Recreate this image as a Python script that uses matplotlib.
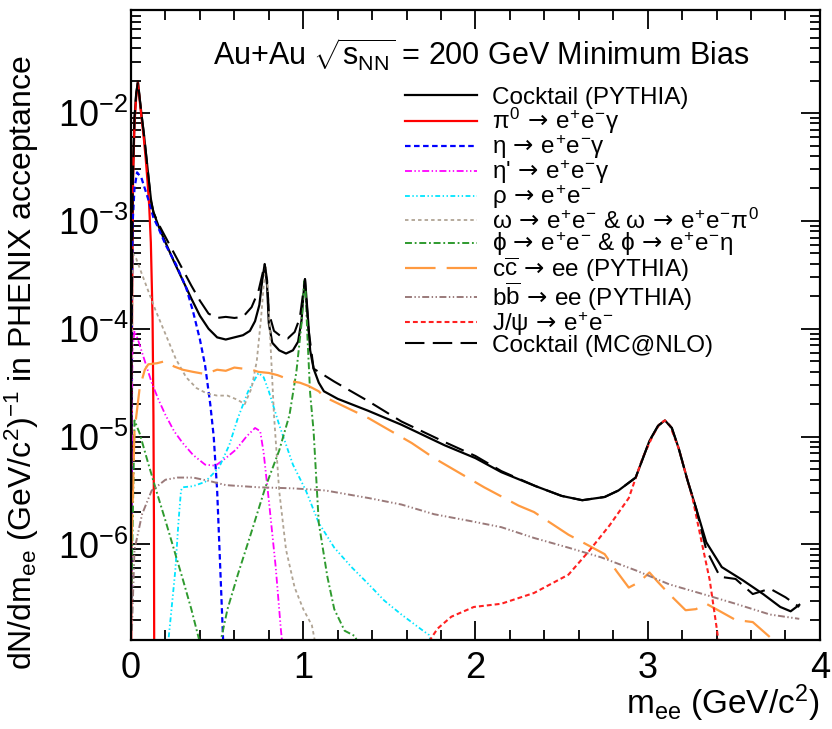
import numpy as np
import matplotlib
matplotlib.use("Agg")
import matplotlib.pyplot as plt
from matplotlib.ticker import MultipleLocator, LogLocator, NullFormatter

plt.rcParams['font.family'] = ['Liberation Sans', 'DejaVu Sans']
plt.rcParams['mathtext.fontset'] = 'custom'
plt.rcParams['mathtext.rm'] = 'Liberation Sans'
plt.rcParams['mathtext.it'] = 'Liberation Sans'
plt.rcParams['mathtext.sf'] = 'DejaVu Sans'
plt.rcParams['mathtext.bf'] = 'Liberation Sans:bold'
plt.rcParams['lines.scale_dashes'] = False
plt.rcParams['axes.unicode_minus'] = False

# ---------------- data (log10 of dN/dm_ee) ----------------
m_cocktail = [0.001, 0.004, 0.008, 0.012, 0.02, 0.03, 0.04, 0.05, 0.062, 0.075, 0.085, 0.095, 0.105, 0.117, 0.13,
              0.16, 0.2, 0.25, 0.3, 0.35, 0.4, 0.45, 0.5, 0.55, 0.6, 0.65, 0.69, 0.72, 0.745, 0.762, 0.776, 0.79,
              0.80, 0.82, 0.86, 0.90, 0.94, 0.97, 0.99, 1.0, 1.01, 1.025, 1.04, 1.06, 1.09, 1.12, 1.2, 1.376, 1.57,
              1.82, 2.0, 2.15, 2.35, 2.5, 2.62, 2.75, 2.83, 2.93, 3.01, 3.06, 3.10, 3.14, 3.18, 3.23, 3.28, 3.34,
              3.43, 3.55, 3.67, 3.77, 3.83, 3.88]
log_cocktail = [-5.5, -3.9, -2.95, -2.5, -2.05, -1.82, -1.71, -1.86, -2.03, -2.2, -2.35, -2.5, -2.65, -2.82, -2.92,
                -3.05, -3.2, -3.38, -3.55, -3.72, -3.88, -4.0, -4.08, -4.1, -4.08, -4.06, -4.02, -3.93, -3.78, -3.55,
                -3.40, -3.6, -3.95, -4.13, -4.2, -4.23, -4.2, -4.12, -3.92, -3.7, -3.54, -3.85, -4.2, -4.37, -4.5,
                -4.58, -4.65, -4.76, -4.89, -5.08, -5.2, -5.33, -5.46, -5.55, -5.59, -5.56, -5.50, -5.38, -5.04, -4.9,
                -4.85, -4.92, -5.11, -5.4, -5.66, -5.98, -6.21, -6.33, -6.46, -6.58, -6.62, -6.56]

m_mcnlo = [0.001, 0.004, 0.008, 0.012, 0.02, 0.03, 0.04, 0.05, 0.062, 0.075, 0.085, 0.095, 0.105, 0.117, 0.13,
           0.16, 0.2, 0.25, 0.3, 0.35, 0.4, 0.45, 0.5, 0.55, 0.6, 0.65, 0.7, 0.74, 0.762, 0.776, 0.79, 0.80, 0.83,
           0.87, 0.91, 0.95, 0.98, 1.0, 1.01, 1.03, 1.06, 1.18, 1.376, 1.57, 1.82, 2.0, 2.15, 2.35, 2.5, 2.62,
           2.75, 2.83, 2.93, 3.01, 3.06, 3.10, 3.14, 3.18, 3.23, 3.28, 3.34, 3.42, 3.51, 3.61, 3.71, 3.80, 3.88]
log_mcnlo = [-5.5, -3.9, -2.95, -2.5, -2.05, -1.82, -1.71, -1.86, -2.03, -2.2, -2.35, -2.5, -2.65, -2.82, -2.92,
             -3.03, -3.15, -3.3, -3.45, -3.6, -3.74, -3.86, -3.9, -3.89, -3.9, -3.89, -3.8, -3.65, -3.5, -3.40,
             -3.55, -3.85, -4.02, -4.07, -4.09, -4.03, -3.9, -3.66, -3.54, -4.0, -4.37, -4.49, -4.67, -4.86, -5.05,
             -5.18, -5.32, -5.46, -5.55, -5.59, -5.56, -5.50, -5.38, -5.04, -4.9, -4.85, -4.92, -5.11, -5.4, -5.66,
             -6.05, -6.30, -6.32, -6.46, -6.41, -6.49, -6.58]

m_pi0 = [0.001, 0.004, 0.008, 0.012, 0.02, 0.03, 0.04, 0.05, 0.062, 0.075, 0.085, 0.095, 0.105, 0.115, 0.125,
         0.13, 0.133, 0.1345]
log_pi0 = [-7.0, -4.6, -3.2, -2.6, -2.1, -1.85, -1.72, -1.88, -2.06, -2.25, -2.42, -2.62, -2.85, -3.2, -3.9,
           -4.8, -5.8, -7.0]

m_eta = [0.001, 0.005, 0.01, 0.02, 0.035, 0.06, 0.1, 0.13, 0.16, 0.2, 0.26, 0.32, 0.36, 0.40, 0.43, 0.46, 0.48,
         0.50, 0.52, 0.535, 0.545]
log_eta = [-6.5, -3.6, -3.0, -2.7, -2.55, -2.6, -2.8, -2.97, -3.07, -3.22, -3.4, -3.62, -3.84, -4.1, -4.34, -4.7,
           -5.0, -5.5, -6.3, -6.9, -7.2]

m_etap = [0.002, 0.008, 0.02, 0.04, 0.08, 0.12, 0.16, 0.2, 0.25, 0.3, 0.36, 0.43, 0.49, 0.55, 0.61, 0.67, 0.72,
          0.75, 0.77, 0.8, 0.84, 0.87, 0.89]
log_etap = [-6.0, -4.2, -4.02, -4.1, -4.3, -4.5, -4.66, -4.8, -4.95, -5.06, -5.17, -5.26, -5.27, -5.2, -5.12,
            -5.0, -4.92, -4.95, -5.15, -5.59, -6.21, -6.79, -7.1]

m_rho = [0.21, 0.235, 0.257, 0.275, 0.29, 0.30, 0.36, 0.43, 0.51, 0.57, 0.62, 0.68, 0.74, 0.77, 0.80, 0.86, 0.94,
         1.015, 1.09, 1.18, 1.28, 1.38, 1.47, 1.57, 1.67, 1.73, 1.76]
log_rho = [-7.0, -6.6, -6.24, -5.8, -5.5, -5.47, -5.46, -5.42, -5.29, -5.08, -4.83, -4.58, -4.41, -4.45, -4.58,
           -4.89, -5.26, -5.50, -5.8, -6.03, -6.21, -6.37, -6.52, -6.65, -6.77, -6.84, -7.0]

m_omega = [0.002, 0.01, 0.03, 0.06, 0.1, 0.14, 0.2, 0.26, 0.32, 0.38, 0.44, 0.5, 0.56, 0.62, 0.66, 0.7, 0.73,
           0.755, 0.77, 0.782, 0.795, 0.81, 0.83, 0.86, 0.9, 0.95, 1.0, 1.05, 1.08]
log_omega = [-5.0, -3.3, -3.35, -3.48, -3.65, -3.82, -4.05, -4.28, -4.45, -4.55, -4.6, -4.62, -4.62, -4.66, -4.7,
             -4.55, -4.3, -3.9, -3.6, -3.43, -3.65, -4.15, -4.8, -5.5, -6.05, -6.4, -6.6, -6.75, -7.0]

m_phi = [0.002, 0.02, 0.05, 0.1, 0.15, 0.2, 0.25, 0.3, 0.35, 0.39, 0.43, 0.47, 0.52, 0.56, 0.62, 0.7, 0.78, 0.86,
         0.92, 0.96, 0.99, 1.005, 1.012, 1.025, 1.04, 1.06, 1.09, 1.14, 1.18, 1.24, 1.30, 1.34]
log_phi = [-6.5, -4.85, -4.97, -5.25, -5.52, -5.78, -6.05, -6.32, -6.6, -6.85, -7.1, -7.2, -6.9, -6.6, -6.28,
           -5.88, -5.47, -5.13, -4.8, -4.4, -3.95, -3.56, -3.6, -4.1, -4.6, -4.95, -5.8, -6.3, -6.6, -6.8, -6.85,
           -7.0]

m_ccbar = [0.003, 0.02, 0.05, 0.08, 0.1, 0.15, 0.2, 0.25, 0.3, 0.36, 0.43, 0.5, 0.55, 0.6, 0.65, 0.7, 0.74, 0.8,
           0.85, 0.9, 0.94, 0.98, 1.03, 1.09, 1.12, 1.38, 1.63, 1.76, 2.05, 2.25, 2.34, 2.54, 2.68, 2.75, 2.82,
           2.89, 2.95, 3.01, 3.06, 3.125, 3.22, 3.28, 3.34, 3.42, 3.51, 3.61, 3.71, 3.76]
log_ccbar = [-6.0, -4.95, -4.55, -4.38, -4.33, -4.32, -4.3, -4.35, -4.38, -4.4, -4.42, -4.38, -4.39, -4.36, -4.37,
             -4.38, -4.4, -4.41, -4.43, -4.46, -4.49, -4.5, -4.53, -4.58, -4.63, -4.83, -5.06, -5.2, -5.47, -5.64,
             -5.7, -5.91, -6.03, -6.09, -6.25, -6.40, -6.35, -6.26, -6.35, -6.46, -6.61, -6.6, -6.55, -6.62,
             -6.70, -6.72, -6.86, -7.0]

m_bbbar = [0.005, 0.02, 0.064, 0.12, 0.2, 0.27, 0.36, 0.45, 0.55, 0.74, 0.94, 1.13, 1.38, 1.57, 1.76, 1.96, 2.15,
           2.34, 2.54, 2.73, 2.93, 3.125, 3.32, 3.51, 3.71, 3.88]
log_bbbar = [-6.8, -6.05, -5.72, -5.5, -5.4, -5.38, -5.38, -5.41, -5.45, -5.47, -5.48, -5.5, -5.57, -5.63, -5.72,
             -5.78, -5.84, -5.94, -6.03, -6.12, -6.24, -6.37, -6.46, -6.55, -6.65, -6.69]

m_jpsi = [1.73, 1.78, 1.86, 1.99, 2.15, 2.34, 2.54, 2.66, 2.78, 2.89, 2.97, 3.03, 3.07, 3.10, 3.13, 3.18, 3.26,
          3.32, 3.36, 3.40, 3.42]
log_jpsi = [-6.9, -6.78, -6.67, -6.58, -6.55, -6.45, -6.28, -6.06, -5.82, -5.57, -5.2, -4.99, -4.88, -4.85, -4.9,
            -5.11, -5.57, -6.03, -6.33, -6.77, -7.0]

ARR = r"\,\mathsf{\rightarrow}\,"
labels = [
    "Cocktail (PYTHIA)",
    r"$\pi^{0}" + ARR + r"e^{+}e^{-}\gamma$",
    r"$\eta" + ARR + r"e^{+}e^{-}\gamma$",
    r"$\eta$'$" + ARR + r"e^{+}e^{-}\gamma$",
    r"$\rho" + ARR + r"e^{+}e^{-}$",
    r"$\omega" + ARR + r"e^{+}e^{-}$ & $\omega" + ARR + r"e^{+}e^{-}\pi^{0}$",
    r"$\phi" + ARR + r"e^{+}e^{-}$ & $\phi" + ARR + r"e^{+}e^{-}\eta$",
    r"$c\overline{c}" + ARR + r"ee$ (PYTHIA)",
    r"$b\overline{b}" + ARR + r"ee$ (PYTHIA)",
    r"$J/\psi" + ARR + r"e^{+}e^{-}$",
    "Cocktail (MC@NLO)",
]

# ---------------- figure ----------------
fig = plt.figure(figsize=(8.32, 7.29), dpi=100)
ax = fig.add_axes([0.1575, 0.1221, 0.828, 0.864])

def y(v):
    return np.power(10.0, np.asarray(v))

series = [
    (m_cocktail, log_cocktail, dict(color='black', lw=1.6, ls='-')),
    (m_pi0, log_pi0, dict(color='#ff0000', lw=1.6, ls='-')),
    (m_eta, log_eta, dict(color='#0000ff', lw=1.6, dashes=(4, 2.5))),
    (m_etap, log_etap, dict(color='#ff00ff', lw=1.3, dashes=(5, 1.8, 1, 1.8, 1, 1.8))),
    (m_rho, log_rho, dict(color='#00e5ff', lw=1.3, dashes=(3.5, 1.8, 1, 1.8, 1, 1.8))),
    (m_omega, log_omega, dict(color='#b0a494', lw=1.3, dashes=(2.5, 2.2))),
    (m_phi, log_phi, dict(color='#2e9a2e', lw=1.4, dashes=(5, 2, 1.3, 2))),
    (m_ccbar, log_ccbar, dict(color='#ff9a40', lw=1.6, dashes=(22, 8))),
    (m_bbbar, log_bbbar, dict(color='#9a7a7a', lw=1.4, dashes=(5, 1.8, 1, 1.8, 1, 1.8))),
    (m_jpsi, log_jpsi, dict(color='#ff2020', lw=1.5, dashes=(3.5, 2.2))),
    (m_mcnlo, log_mcnlo, dict(color='black', lw=1.5, dashes=(14, 6))),
]

handles = []
for (xs, ls_, kw), lab in zip(series, labels):
    h, = ax.plot(xs, y(ls_), label=lab, **kw)
    handles.append(h)

ax.set_yscale('log')
ax.set_xlim(0, 4)
ax.set_ylim(1.3e-7, 0.09)

ax.xaxis.set_major_locator(MultipleLocator(1))
ax.xaxis.set_minor_locator(MultipleLocator(0.2))
ax.yaxis.set_major_locator(LogLocator(base=10))
ax.yaxis.set_minor_locator(LogLocator(base=10, subs=np.arange(2, 10)))
ax.yaxis.set_minor_formatter(NullFormatter())
ax.tick_params(which='both', direction='in', top=True, right=True, width=1.3, labelsize=26)
ax.tick_params(which='major', length=14)
ax.tick_params(which='minor', length=7)
ax.tick_params(axis='x', pad=8)
ax.tick_params(axis='y', pad=2)
for s in ax.spines.values():
    s.set_linewidth(1.6)

ax.set_xlabel(r"m$_{ee}$ (GeV/c$^{2}$)", fontsize=24, loc='right')
ax.xaxis.set_label_coords(1.0, -0.068)
ax.set_ylabel(r"dN/dm$_{ee}$ (GeV/c$^{2}$)$^{-1}$ in PHENIX acceptance", fontsize=23)
ax.yaxis.set_label_coords(-0.131, 0.44)

ax.text(0.119, 0.929, r"Au+Au $\sqrt{s_{NN}}$ = 200 GeV Minimum Bias", transform=ax.transAxes,
        fontsize=22, ha='left', va='center')

leg = ax.legend(handles=handles, loc='upper left', bbox_to_anchor=(0.397, 0.878), frameon=False,
                fontsize=17.5, handlelength=3.0, handletextpad=0.6, labelspacing=-0.12, borderpad=0,
                borderaxespad=0)

fig.savefig("out.png", dpi=100)
